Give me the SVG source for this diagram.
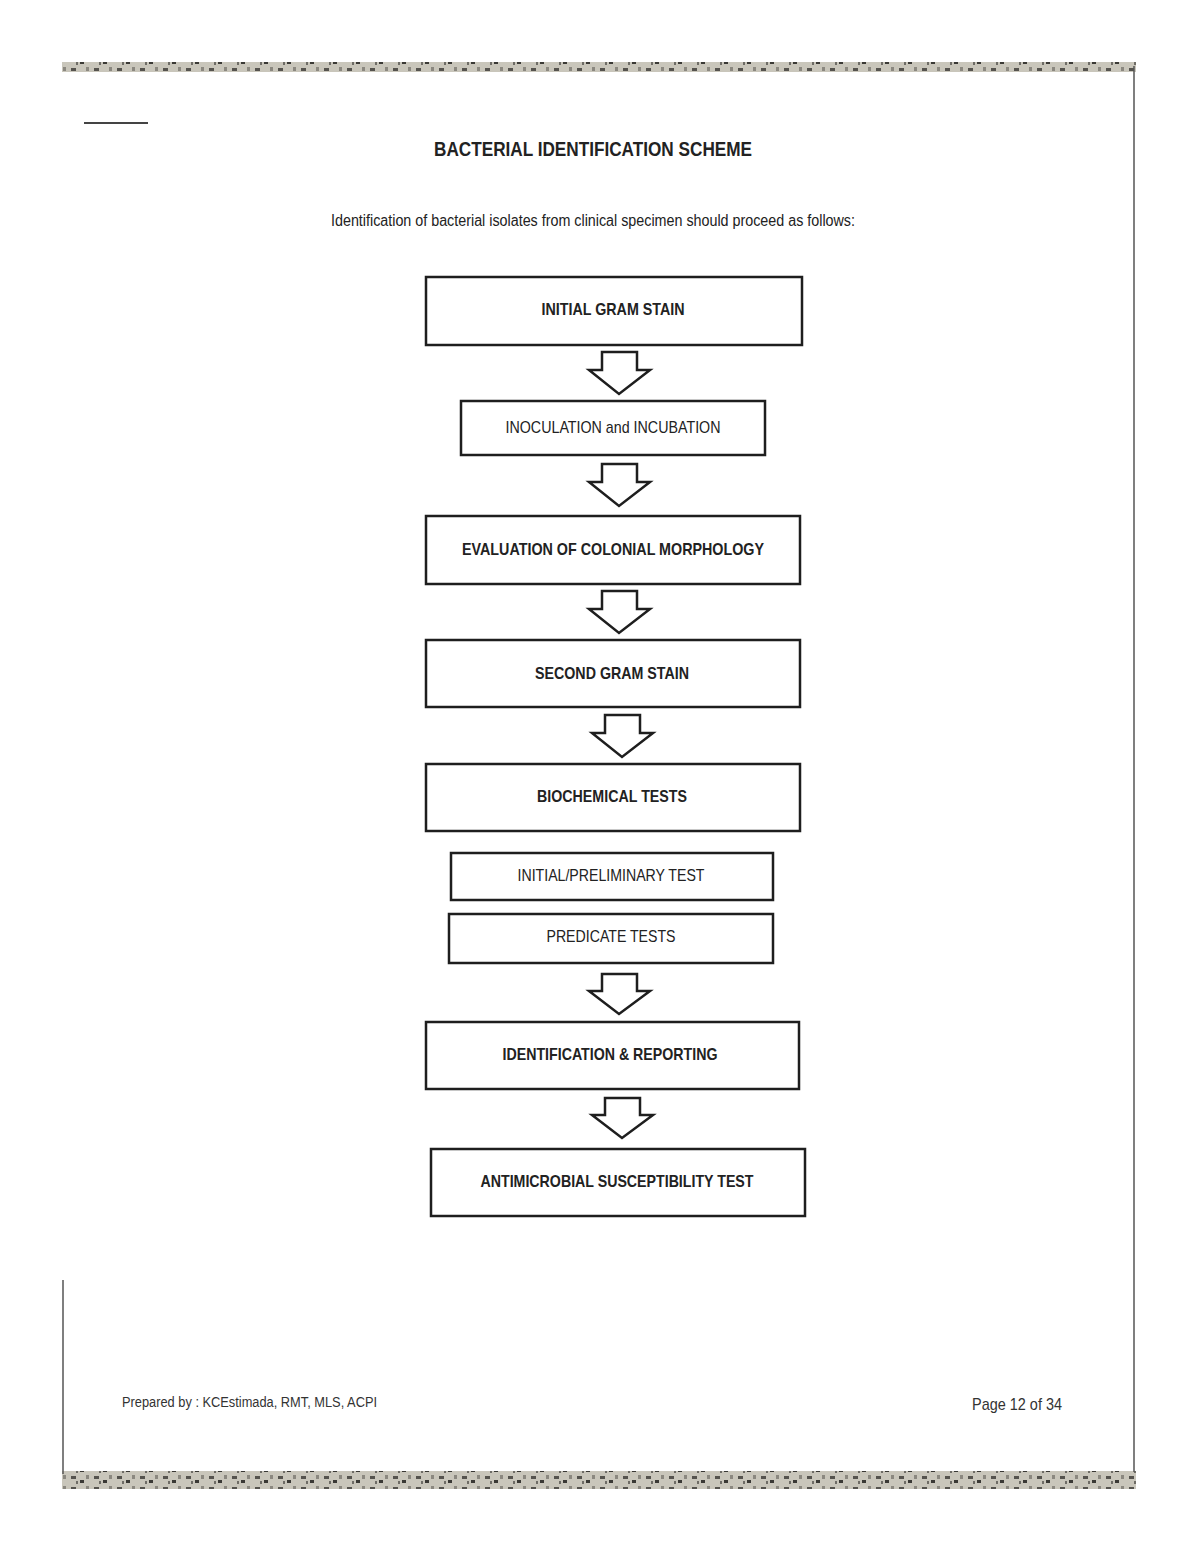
<svg xmlns="http://www.w3.org/2000/svg" width="1200" height="1553" viewBox="0 0 1200 1553">
<defs>
<pattern id="granite" width="23" height="11" patternUnits="userSpaceOnUse">
<rect width="23" height="11" fill="#c9c6bb"/>
<rect x="2" y="2" width="5" height="3" fill="#55534e"/>
<rect x="11" y="6" width="4" height="3" fill="#3a3935"/>
<rect x="17" y="1" width="3" height="4" fill="#8b8880"/>
<rect x="7" y="7" width="2" height="3" fill="#6e6c66"/>
</pattern>
<style>
.box{fill:#ffffff;stroke:#1e1e1e;stroke-width:2.5}
.arrow{fill:#ffffff;stroke:#1e1e1e;stroke-width:2.5;stroke-linejoin:miter}
.lb{font-family:"Liberation Sans",Arial,sans-serif;font-size:17px;font-weight:bold;fill:#222;text-anchor:middle}
.ln{font-family:"Liberation Sans",Arial,sans-serif;font-size:17px;fill:#222;text-anchor:middle}
</style>
</defs>
<rect width="1200" height="1553" fill="#ffffff"/>
<g id="page">
<rect x="62" y="62" width="1074" height="10" fill="url(#granite)"/>
<rect x="62" y="1471" width="1074" height="18" fill="url(#granite)"/>
<line x1="1134" y1="66" x2="1134" y2="1472" stroke="#555" stroke-width="1.5"/>
<line x1="63" y1="1280" x2="63" y2="1474" stroke="#555" stroke-width="1.5"/>
<line x1="84" y1="123" x2="148" y2="123" stroke="#444" stroke-width="2"/>
</g>
<g id="title">
<text x="593" y="156" font-family="'Liberation Sans',Arial,sans-serif" font-size="20" font-weight="bold" fill="#222" text-anchor="middle" textLength="318" lengthAdjust="spacingAndGlyphs">BACTERIAL IDENTIFICATION SCHEME</text>
<text x="593" y="226" font-family="'Liberation Sans',Arial,sans-serif" font-size="16" fill="#222" text-anchor="middle" textLength="524" lengthAdjust="spacingAndGlyphs">Identification of bacterial isolates from clinical specimen should proceed as follows:</text>
</g>
<g id="connectors">
<path class="arrow" d="M602,352 H637 V370 H650 L619,394 L589,370 H602 Z"/>
<path class="arrow" d="M602,464 H637 V482 H650 L619,506 L589,482 H602 Z"/>
<path class="arrow" d="M602,591 H637 V609 H650 L619,633 L589,609 H602 Z"/>
<path class="arrow" d="M605,715 H640 V733 H653 L622,757 L592,733 H605 Z"/>
<path class="arrow" d="M602,974 H637 V991 H650 L619,1014 L589,991 H602 Z"/>
<path class="arrow" d="M605,1098 H640 V1115 H653 L622,1138 L592,1115 H605 Z"/>
</g>
<g id="n1"><rect class="box" x="426" y="277" width="376" height="68"/><text class="lb" x="613" y="315" textLength="143" lengthAdjust="spacingAndGlyphs">INITIAL GRAM STAIN</text></g>
<g id="n2"><rect class="box" x="461" y="401" width="304" height="54"/><text class="ln" x="613" y="433" textLength="215" lengthAdjust="spacingAndGlyphs">INOCULATION and INCUBATION</text></g>
<g id="n3"><rect class="box" x="426" y="516" width="374" height="68"/><text class="lb" x="613" y="555" textLength="302" lengthAdjust="spacingAndGlyphs">EVALUATION OF COLONIAL MORPHOLOGY</text></g>
<g id="n4"><rect class="box" x="426" y="640" width="374" height="67"/><text class="lb" x="612" y="679" textLength="154" lengthAdjust="spacingAndGlyphs">SECOND GRAM STAIN</text></g>
<g id="n5"><rect class="box" x="426" y="764" width="374" height="67"/><text class="lb" x="612" y="802" textLength="150" lengthAdjust="spacingAndGlyphs">BIOCHEMICAL TESTS</text></g>
<g id="n6"><rect class="box" x="451" y="853" width="322" height="47"/><text class="ln" x="611" y="881" textLength="187" lengthAdjust="spacingAndGlyphs">INITIAL/PRELIMINARY TEST</text></g>
<g id="n7"><rect class="box" x="449" y="914" width="324" height="49"/><text class="ln" x="611" y="942" textLength="129" lengthAdjust="spacingAndGlyphs">PREDICATE TESTS</text></g>
<g id="n8"><rect class="box" x="426" y="1022" width="373" height="67"/><text class="lb" x="610" y="1060" textLength="215" lengthAdjust="spacingAndGlyphs">IDENTIFICATION &amp; REPORTING</text></g>
<g id="n9"><rect class="box" x="431" y="1149" width="374" height="67"/><text class="lb" x="617" y="1187" textLength="273" lengthAdjust="spacingAndGlyphs">ANTIMICROBIAL SUSCEPTIBILITY TEST</text></g>
<g id="footer">
<text x="122" y="1407" font-family="'Liberation Sans',Arial,sans-serif" font-size="14" fill="#333" textLength="255" lengthAdjust="spacingAndGlyphs">Prepared by : KCEstimada, RMT, MLS, ACPI</text>
<text x="972" y="1410" font-family="'Liberation Sans',Arial,sans-serif" font-size="17" fill="#333" textLength="90" lengthAdjust="spacingAndGlyphs">Page 12 of 34</text>
</g>
</svg>
